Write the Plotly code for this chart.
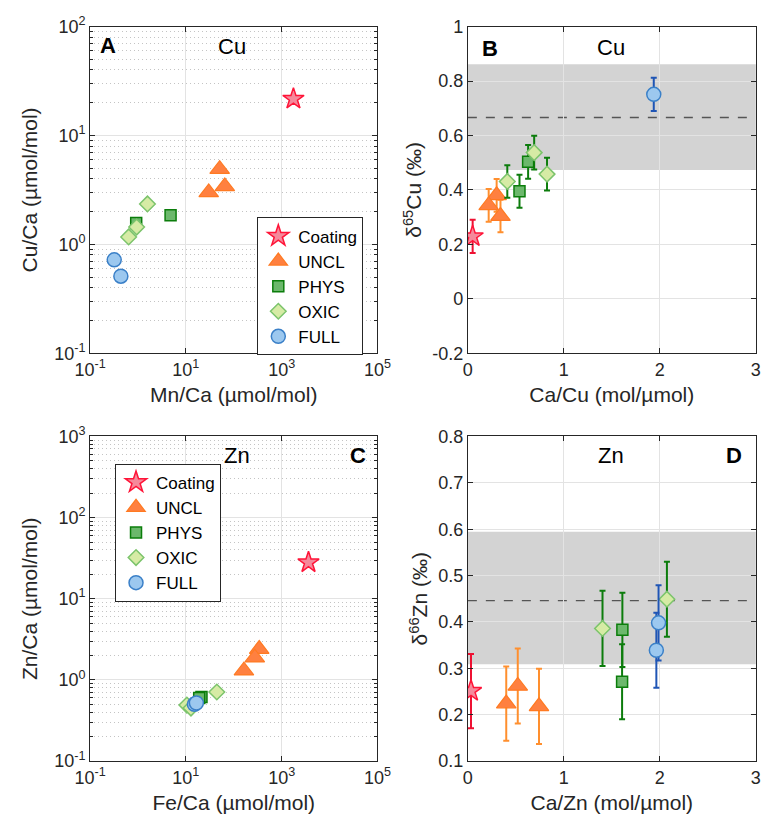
import plotly.graph_objects as go

W, H = 777, 829
FONT = "Liberation Sans, Arial, sans-serif"
TXT = "#262626"

groups = ["Coating", "UNCL", "PHYS", "OXIC", "FULL"]

# Panel A: Mn/Ca vs Cu/Ca
a_x = {"Coating": [1760], "UNCL": [50.8, 30, 65], "PHYS": [4.8, 0.92],
       "OXIC": [1.58, 0.94, 0.64], "FULL": [0.32, 0.44]}
a_y = {"Coating": [21.7], "UNCL": [4.9, 3.0, 3.4], "PHYS": [1.85, 1.57],
       "OXIC": [2.35, 1.44, 1.17], "FULL": [0.72, 0.51]}

# Panel B: Ca/Cu vs d65Cu
b_x = {"Coating": [0.05], "UNCL": [0.30, 0.217, 0.34], "PHYS": [0.628, 0.538],
       "OXIC": [0.691, 0.825, 0.411], "FULL": [1.937]}
b_y = {"Coating": [0.229], "UNCL": [0.38, 0.343, 0.304], "PHYS": [0.503, 0.395],
       "OXIC": [0.537, 0.458, 0.431], "FULL": [0.751]}
b_e = {"Coating": [0.061], "UNCL": [0.06, 0.06, 0.06], "PHYS": [0.062, 0.061],
       "OXIC": [0.062, 0.06, 0.06], "FULL": [0.061]}
b_band = [0.473, 0.8615]
b_mean = 0.666

# Panel C: Fe/Ca vs Zn/Ca
c_x = {"Coating": [3630], "UNCL": [340, 275, 163], "PHYS": [21.2, 19],
       "OXIC": [44.3, 10.5, 12.8], "FULL": [15.1, 16.6]}
c_y = {"Coating": [28], "UNCL": [2.4, 1.88, 1.3], "PHYS": [0.617, 0.6],
       "OXIC": [0.71, 0.49, 0.45], "FULL": [0.50, 0.52]}

# Panel D: Ca/Zn vs d66Zn
d_x = {"Coating": [0.033], "UNCL": [0.40, 0.52, 0.741], "PHYS": [1.61, 1.607],
       "OXIC": [1.403, 2.074], "FULL": [1.987, 1.964]}
d_y = {"Coating": [0.251], "UNCL": [0.224, 0.262, 0.218], "PHYS": [0.383, 0.271],
       "OXIC": [0.386, 0.449], "FULL": [0.398, 0.339]}
d_e = {"Coating": [0.08], "UNCL": [0.08, 0.081, 0.081], "PHYS": [0.08, 0.081],
       "OXIC": [0.081, 0.081], "FULL": [0.081, 0.081]}
d_band = [0.309, 0.5945]
d_mean = 0.446

style = {
    "Coating": dict(symbol="star", size=16, color="#f5899b", line=dict(color="#ff1438", width=1.5)),
    "UNCL": dict(symbol="triangle-up", size=17, color="#ff8040", line=dict(color="#ff7a22", width=1.2)),
    "PHYS": dict(symbol="square", size=11, color="#6cb86c", line=dict(color="#0b7d0b", width=1.5)),
    "OXIC": dict(symbol="diamond", size=12, color="#d6eba5", line=dict(color="#7cc46c", width=1.5)),
    "FULL": dict(symbol="circle", size=14, color="#9cc8ef", line=dict(color="#3b80c8", width=1.5)),
}
err_col = {"Coating": "#ee1133", "UNCL": "#ff8f2e", "PHYS": "#0c7c0c",
           "OXIC": "#0c7c0c", "FULL": "#1f55b5"}

fig = go.Figure()


def add_panel(xd, yd, ax, ed=None, legend=None):
    for g in groups:
        kw = {}
        if ed is not None:
            kw["error_y"] = dict(type="data", array=ed[g], visible=True,
                                 color=err_col[g], thickness=2, width=3)
        fig.add_trace(go.Scatter(
            x=xd[g], y=yd[g], mode="markers", name=g, marker=style[g],
            xaxis="x" + ax, yaxis="y" + ax,
            showlegend=legend is not None, legend=legend or "legend", **kw))


add_panel(a_x, a_y, "", legend="legend")
add_panel(b_x, b_y, "2", ed=b_e)
add_panel(c_x, c_y, "3", legend="legend2")
add_panel(d_x, d_y, "4", ed=d_e)

xdomL = [77 / W, 376 / W]
xdomR = [470 / W, 769.5 / W]
ydomT = [1 - 350.5 / H, 1 - 15 / H]
ydomB = [1 - 769.5 / H, 1 - 436 / H]

common = dict(showline=True, linecolor=TXT, linewidth=1, mirror="ticks",
              ticks="inside", ticklen=5, tickcolor=TXT, showgrid=True,
              gridcolor="#e3e3e3", gridwidth=1, zeroline=False,
              tickfont=dict(family=FONT, size=18, color=TXT),
              title_font=dict(family=FONT, size=21, color=TXT))

log_x_vals = [0.1, 10, 1000, 1e5]
log_x_txt = ["10<sup>-1</sup>", "10<sup>1</sup>", "10<sup>3</sup>", "10<sup>5</sup>"]
minor_y = dict(dtick="D1", showgrid=True, gridcolor="#c4c4c4", griddash="1px,3px",
               ticks="inside", ticklen=3, tickcolor=TXT)

fig.update_layout(
    width=W, height=H, margin=dict(l=0, r=0, t=0, b=0),
    paper_bgcolor="white", plot_bgcolor="white",
    font=dict(family=FONT, color=TXT),
    xaxis=dict(common, type="log", range=[-1, 5], domain=xdomL, anchor="y",
               tickvals=log_x_vals, ticktext=log_x_txt,
               title=dict(text="Mn/Ca (µmol/mol)", standoff=8)),
    yaxis=dict(common, type="log", range=[-1, 2], domain=ydomT, anchor="x",
               tickvals=[0.1, 1, 10, 100],
               ticktext=["10<sup>-1</sup>", "10<sup>0</sup>", "10<sup>1</sup>", "10<sup>2</sup>"],
               minor=minor_y, title=dict(text="Cu/Ca (µmol/mol)", standoff=10)),
    xaxis2=dict(common, range=[0, 3], domain=xdomR, anchor="y2",
                tickvals=[0, 1, 2, 3], ticktext=["0", "1", "2", "3"],
                title=dict(text="Ca/Cu (mol/µmol)", standoff=8)),
    yaxis2=dict(common, range=[-0.2, 1], domain=ydomT, anchor="x2",
                tickvals=[-0.2, 0, 0.2, 0.4, 0.6, 0.8, 1],
                ticktext=["-0.2", "0", "0.2", "0.4", "0.6", "0.8", "1"],
                title=dict(text="δ<sup>65</sup>Cu (‰)", standoff=4)),
    xaxis3=dict(common, type="log", range=[-1, 5], domain=xdomL, anchor="y3",
                tickvals=log_x_vals, ticktext=log_x_txt,
                title=dict(text="Fe/Ca (µmol/mol)", standoff=8)),
    yaxis3=dict(common, type="log", range=[-1, 3], domain=ydomB, anchor="x3",
                tickvals=[0.1, 1, 10, 100, 1000],
                ticktext=["10<sup>-1</sup>", "10<sup>0</sup>", "10<sup>1</sup>",
                          "10<sup>2</sup>", "10<sup>3</sup>"],
                minor=minor_y, title=dict(text="Zn/Ca (µmol/mol)", standoff=10)),
    xaxis4=dict(common, range=[0, 3], domain=xdomR, anchor="y4",
                tickvals=[0, 1, 2, 3], ticktext=["0", "1", "2", "3"],
                title=dict(text="Ca/Zn (mol/µmol)", standoff=8)),
    yaxis4=dict(common, range=[0.1, 0.8], domain=ydomB, anchor="x4",
                tickvals=[0.1, 0.2, 0.3, 0.4, 0.5, 0.6, 0.7, 0.8],
                ticktext=["0.1", "0.2", "0.3", "0.4", "0.5", "0.6", "0.7", "0.8"],
                title=dict(text="δ<sup>66</sup>Zn (‰)", standoff=4)),
    legend=dict(x=251 / W, y=1 - 211 / H, xanchor="left", yanchor="top",
                bordercolor=TXT, borderwidth=1, bgcolor="white",
                font=dict(family=FONT, size=17, color="black"), tracegroupgap=0),
    legend2=dict(x=103 / W, y=1 - 464 / H, xanchor="left", yanchor="top",
                 bordercolor=TXT, borderwidth=1, bgcolor="white",
                 font=dict(family=FONT, size=17, color="black"), tracegroupgap=0),
)

# Bands and mean lines
for ax, band, mean in [("2", b_band, b_mean), ("4", d_band, d_mean)]:
    fig.add_shape(type="rect", xref="x" + ax + " domain", yref="y" + ax,
                  x0=0, x1=1, y0=band[0], y1=band[1], fillcolor="#d3d3d3",
                  line=dict(width=0), layer="below")
    fig.add_shape(type="line", xref="x" + ax + " domain", yref="y" + ax,
                  x0=0, x1=1, y0=mean, y1=mean,
                  line=dict(color="#555555", width=1.3, dash="dash"), layer="below")

# Panel labels
labels = [("A", 96, 34, True), ("Cu", 225, 35, False), ("B", 493, 37, True), ("Cu", 619, 36, False),
          ("Zn", 230, 456, False), ("C", 356, 456, True), ("Zn", 619, 456, False), ("D", 747, 456, True)]
for t, px, py, bold in labels:
    fig.add_annotation(text=f"<b>{t}</b>" if bold else t, x=px / W, y=1 - py / H,
                       xref="paper", yref="paper", showarrow=False,
                       xanchor="center", yanchor="middle",
                       font=dict(family=FONT, size=22, color="black"))

fig.write_html("out.html")
